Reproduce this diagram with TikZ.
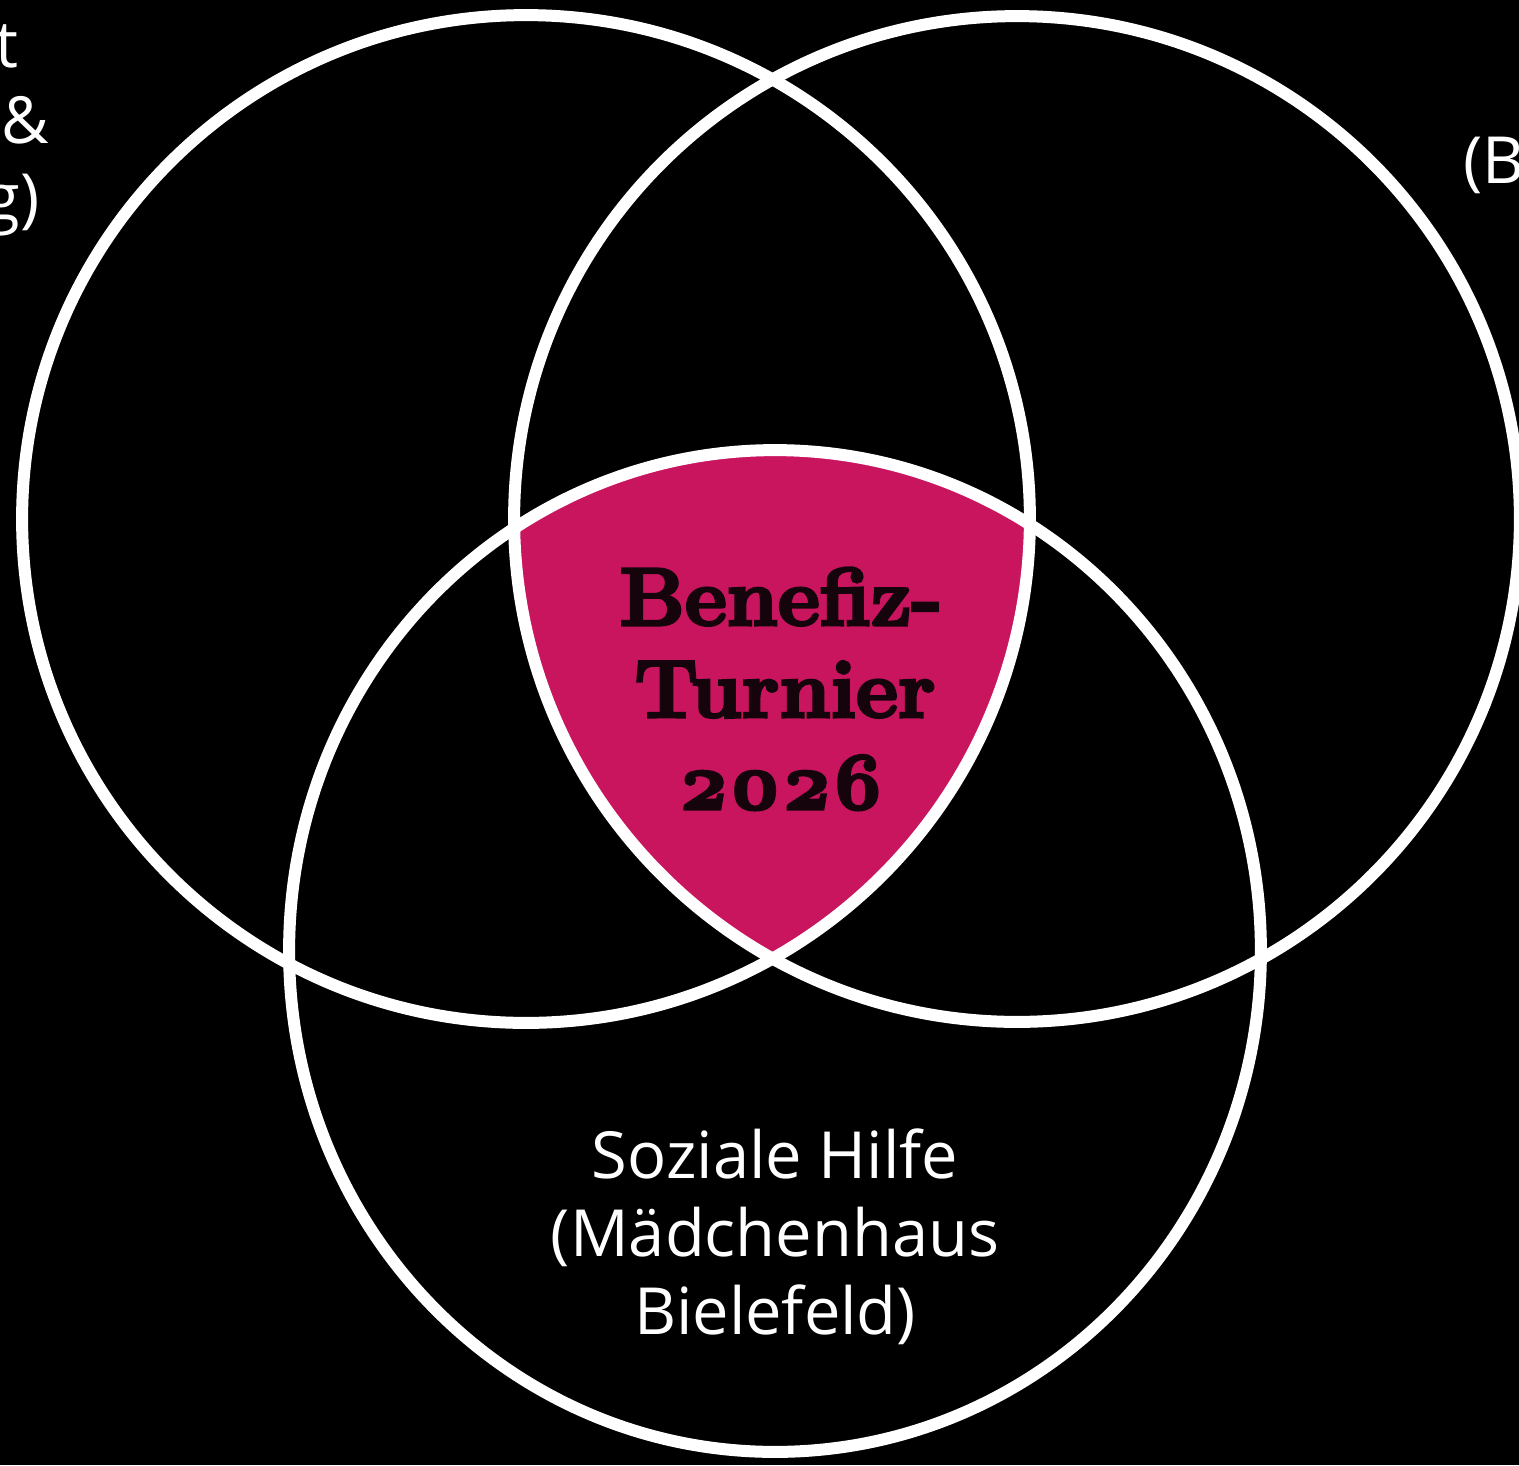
\documentclass[tikz,border=0pt]{standalone}
\usepackage{fontspec}
\newfontfamily\labelfont{Open Sans}
\newfontfamily\hubfont{Latin Modern Roman}[FakeBold=3.8,Numbers=OldStyle]
\definecolor{pinkfill}{RGB}{201,21,94}
\definecolor{inkdark}{RGB}{22,4,12}
\begin{document}
\begin{tikzpicture}[x=0.02cm,y=-0.02cm,
  ring/.style={draw=white,line width=0.24cm},
  lbl/.style={text=white,font=\labelfont\fontsize{37}{44}\selectfont,inner sep=0pt},
  hub/.style={text=inkdark,font=\hubfont\bfseries\fontsize{46.5}{52}\selectfont,inner sep=0pt}]
\useasboundingbox (0,0) rectangle (1519,1465);
\fill[black] (0,0) rectangle (1519,1465);
\coordinate (cL) at (526,519);
\coordinate (cR) at (1017,519);
\coordinate (cB) at (775,951);
\begin{scope}
  \clip (cL) circle [radius=10.08cm];
  \clip (cR) circle [radius=10.06cm];
  \fill[pinkfill] (cB) ellipse [x radius=9.72cm, y radius=10.02cm];
\end{scope}
\draw[ring] (cL) circle [radius=10.08cm];
\draw[ring] (cR) circle [radius=10.06cm];
\draw[ring] (cB) ellipse [x radius=9.72cm, y radius=10.02cm];
% centre
\node[hub,anchor=base] (h1) at (781,625) {Benefiz-};
\node[hub,anchor=base] (h2) at (785,717) {Turnier};
\node[hub,anchor=base] (h3) at (781,809) {2026};
% bottom label
\node[lbl,anchor=base] (b1) at (775,1178) {Soziale Hilfe};
\node[lbl,anchor=base] (b2) at (775,1256) {(Mädchenhaus};
\node[lbl,anchor=base] (b3) at (775,1334) {Bielefeld)};
% clipped fragments
\node[lbl,anchor=base east] (l1) at (19,67) {t};
\node[lbl,anchor=base east] (l2) at (49,143) {\&};
\node[lbl,anchor=base east] (l3) at (40,220) {g)};
\node[lbl,anchor=base west] (r1) at (1463,183) {(B};
\end{tikzpicture}
\end{document}
